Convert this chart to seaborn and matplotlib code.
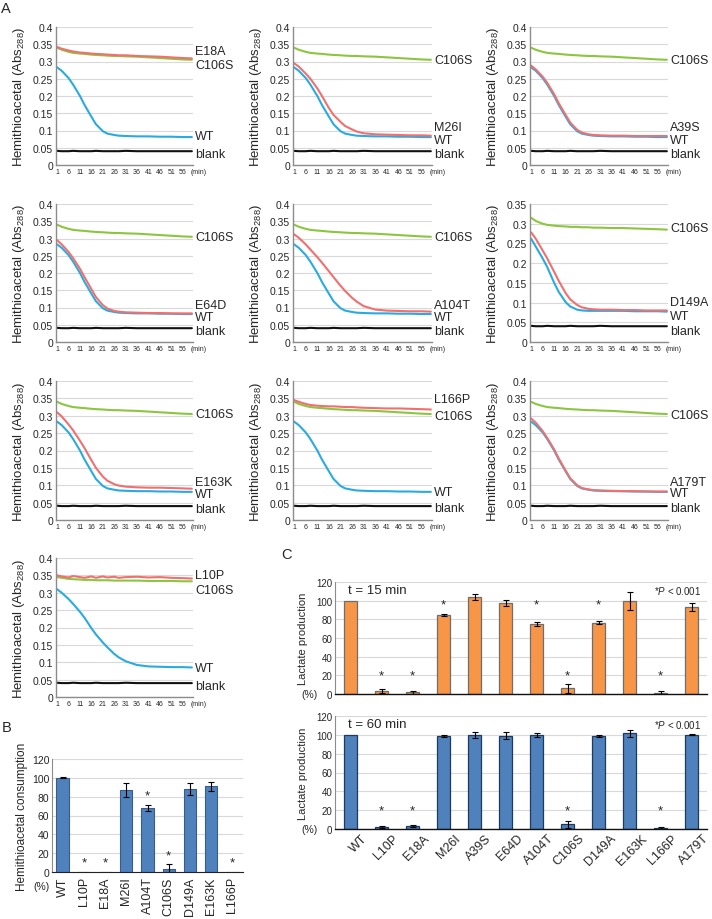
import numpy as np
import pandas as pd
import matplotlib
matplotlib.use("Agg")
import matplotlib.pyplot as plt
import matplotlib.transforms as mtransforms
import seaborn as sns

sns.set_style("white")
plt.rcParams['font.family'] = ['Liberation Sans', 'DejaVu Sans']
plt.rcParams['mathtext.fontset'] = 'custom'
plt.rcParams['mathtext.rm'] = 'Liberation Sans'
plt.rcParams['mathtext.it'] = 'Liberation Sans:italic'
plt.rcParams['mathtext.bf'] = 'Liberation Sans:bold'

# ---------------- data: panel A (time courses, Abs288) ----------------
minutes = [1, 3, 6, 8, 11, 13, 16, 18, 21, 23, 26, 28, 31, 36, 41, 46, 51, 56, 60]
x_tick_minutes = [1, 6, 11, 16, 21, 26, 31, 36, 41, 46, 51, 56]

wt_main = [0.283, 0.273, 0.252, 0.233, 0.200, 0.174, 0.140, 0.118, 0.098, 0.091,
           0.087, 0.085, 0.084, 0.083, 0.083, 0.082, 0.082, 0.081, 0.081]
c106s_main = [0.340, 0.334, 0.328, 0.325, 0.323, 0.322, 0.320, 0.319, 0.318, 0.317,
              0.316, 0.316, 0.315, 0.314, 0.312, 0.310, 0.308, 0.306, 0.305]
blank_main = [0.041, 0.040, 0.040, 0.041, 0.040, 0.040, 0.040, 0.041, 0.040, 0.040,
              0.040, 0.040, 0.041, 0.040, 0.040, 0.040, 0.040, 0.040, 0.040]

wt_d149 = [0.262, 0.242, 0.212, 0.190, 0.150, 0.127, 0.101, 0.090, 0.082, 0.080,
           0.079, 0.079, 0.079, 0.079, 0.079, 0.078, 0.078, 0.078, 0.077]
c106s_d149 = [0.315, 0.307, 0.300, 0.297, 0.295, 0.294, 0.293, 0.292, 0.292, 0.291,
              0.291, 0.290, 0.290, 0.289, 0.289, 0.288, 0.287, 0.286, 0.285]

wt_l10 = [0.310, 0.300, 0.282, 0.268, 0.245, 0.228, 0.198, 0.180, 0.157, 0.143,
          0.124, 0.114, 0.103, 0.092, 0.088, 0.087, 0.086, 0.086, 0.085]
c106s_l10 = [0.345, 0.343, 0.340, 0.339, 0.338, 0.337, 0.337, 0.336, 0.336, 0.336,
             0.335, 0.335, 0.335, 0.335, 0.334, 0.334, 0.334, 0.333, 0.333]

e18a = [0.342, 0.337, 0.332, 0.329, 0.326, 0.325, 0.323, 0.322, 0.321, 0.320,
        0.319, 0.318, 0.318, 0.316, 0.315, 0.314, 0.312, 0.310, 0.309]
m26i = [0.295, 0.285, 0.265, 0.250, 0.222, 0.200, 0.165, 0.145, 0.125, 0.113,
        0.103, 0.097, 0.092, 0.089, 0.088, 0.087, 0.086, 0.086, 0.085]
a39s = [0.288, 0.277, 0.256, 0.238, 0.205, 0.179, 0.145, 0.123, 0.102, 0.094,
        0.089, 0.087, 0.086, 0.085, 0.085, 0.084, 0.084, 0.084, 0.084]
e64d = [0.295, 0.283, 0.261, 0.243, 0.212, 0.188, 0.153, 0.130, 0.107, 0.097,
        0.090, 0.088, 0.086, 0.085, 0.084, 0.084, 0.083, 0.083, 0.083]
a104t = [0.312, 0.302, 0.283, 0.268, 0.246, 0.230, 0.205, 0.188, 0.163, 0.148,
         0.128, 0.117, 0.104, 0.094, 0.091, 0.090, 0.089, 0.089, 0.088]
d149a = [0.278, 0.262, 0.232, 0.212, 0.178, 0.155, 0.124, 0.108, 0.094, 0.088,
         0.084, 0.083, 0.082, 0.082, 0.081, 0.081, 0.080, 0.080, 0.080]
e163k = [0.310, 0.298, 0.275, 0.258, 0.228, 0.207, 0.172, 0.150, 0.125, 0.113,
         0.103, 0.099, 0.096, 0.094, 0.093, 0.093, 0.092, 0.091, 0.090]
l166p = [0.345, 0.340, 0.334, 0.331, 0.329, 0.328, 0.327, 0.327, 0.326, 0.325,
         0.325, 0.324, 0.323, 0.322, 0.321, 0.321, 0.320, 0.319, 0.318]
a179t = [0.292, 0.280, 0.256, 0.236, 0.203, 0.177, 0.142, 0.120, 0.100, 0.092,
         0.088, 0.086, 0.085, 0.084, 0.083, 0.083, 0.082, 0.082, 0.082]
l10p = [0.350, 0.347, 0.344, 0.348, 0.345, 0.343, 0.347, 0.343, 0.347, 0.344,
        0.346, 0.343, 0.345, 0.346, 0.344, 0.345, 0.343, 0.342, 0.341]

# ---------------- data: panel B ----------------
b_categories = ['WT', 'L10P', 'E18A', 'M26I', 'A104T', 'C106S', 'D149A', 'E163K', 'L166P']
b_values = [100, 0, 0, 87, 68, 3, 88, 91, 0]
b_errors = [0.5, 0, 0, 7.5, 3, 5, 6.5, 4.5, 0]
b_signif = [False, True, True, False, True, True, False, False, True]

# ---------------- data: panel C ----------------
c_categories = ['WT', 'L10P', 'E18A', 'M26I', 'A39S', 'E64D', 'A104T', 'C106S',
                'D149A', 'E163K', 'L166P', 'A179T']
c15_values = [100, 3, 2, 85, 104, 97.5, 75, 6, 76.5, 100, 1.5, 93]
c15_errors = [0, 2, 1.5, 1, 3.5, 3.5, 2.5, 5, 2, 9.5, 1.5, 4.5]
c15_signif = [False, True, True, True, False, False, True, True, True, False, True, False]
c60_values = [100, 2.5, 3.5, 99, 100, 99, 100, 5, 98.5, 101.5, 1.5, 100]
c60_errors = [0, 1, 1, 1, 3, 3.5, 2.2, 3.5, 0.8, 3.8, 1, 0.6]
c60_signif = [False, True, True, False, False, False, False, True, False, False, True, False]

# ---------------- layout ----------------
W, H = 712, 920
fig = plt.figure(figsize=(W / 100, H / 100), dpi=100)


def px_axes(x0, y0, x1, y1):
    return fig.add_axes([x0 / W, 1 - y1 / H, (x1 - x0) / W, (y1 - y0) / H])


cols = [(56, 193), (293, 432), (530, 668)]
rows = [(28, 166), (205, 343), (382, 521), (559, 698)]

line_colors = {'WT': '#29abe2', 'C106S': '#8cc63f', 'blank': '#111111', 'mut': '#f07070'}
grid_color = '#d9d9d9'
spine_gray = '#8c8c8c'

controls = {
    'main': (wt_main, c106s_main, blank_main, 0.4),
    'd149': (wt_d149, c106s_d149, blank_main, 0.35),
    'l10': (wt_l10, c106s_l10, blank_main, 0.4),
}

panels = [
    ('E18A', e18a, 'main', 0, 0, {'mut': 0.331, 'C106S': 0.291, 'WT': 0.085, 'blank': 0.032}),
    ('M26I', m26i, 'main', 0, 1, {'mut': 0.111, 'C106S': 0.303, 'WT': 0.073, 'blank': 0.032}),
    ('A39S', a39s, 'main', 0, 2, {'mut': 0.110, 'C106S': 0.303, 'WT': 0.073, 'blank': 0.032}),
    ('E64D', e64d, 'main', 1, 0, {'mut': 0.108, 'C106S': 0.303, 'WT': 0.072, 'blank': 0.032}),
    ('A104T', a104t, 'main', 1, 1, {'mut': 0.108, 'C106S': 0.303, 'WT': 0.072, 'blank': 0.032}),
    ('D149A', d149a, 'd149', 1, 2, {'mut': 0.102, 'C106S': 0.288, 'WT': 0.065, 'blank': 0.027}),
    ('E163K', e163k, 'main', 2, 0, {'mut': 0.110, 'C106S': 0.305, 'WT': 0.075, 'blank': 0.032}),
    ('L166P', l166p, 'main', 2, 1, {'mut': 0.348, 'C106S': 0.300, 'WT': 0.082, 'blank': 0.035}),
    ('A179T', a179t, 'main', 2, 2, {'mut': 0.108, 'C106S': 0.303, 'WT': 0.078, 'blank': 0.034}),
    ('L10P', l10p, 'l10', 3, 0, {'mut': 0.351, 'C106S': 0.307, 'WT': 0.083, 'blank': 0.032}),
]

for name, mut, ctrl, r, c, label_y in panels:
    wt, c106s, blank, ytop = controls[ctrl]
    x0, x1 = cols[c]
    y0, y1 = rows[r]
    ax = px_axes(x0, y0, x1, y1)
    n = len(minutes)
    df = pd.DataFrame({
        'minute': minutes * 4,
        'abs': blank + wt + c106s + mut,
        'series': ['blank'] * n + ['WT'] * n + ['C106S'] * n + [name] * n,
    })
    sns.lineplot(data=df, x='minute', y='abs', hue='series',
                 hue_order=['blank', 'WT', 'C106S', name],
                 palette=[line_colors['blank'], line_colors['WT'], line_colors['C106S'], line_colors['mut']],
                 linewidth=1.5, legend=False, ax=ax)
    ax.set_xlim(0.5, 60.5)
    ax.set_ylim(0, ytop)
    yt = np.round(np.arange(0, ytop + 1e-9, 0.05), 2)
    ax.set_yticks(yt)
    ax.set_yticklabels([f"{v:g}" for v in yt])
    ax.yaxis.grid(True, color=grid_color, lw=0.8)
    ax.set_axisbelow(True)
    for s in ['top', 'right']:
        ax.spines[s].set_visible(False)
    ax.spines['left'].set_color(spine_gray)
    ax.spines['bottom'].set_color(spine_gray)
    ax.spines['left'].set_linewidth(1.0)
    ax.spines['bottom'].set_linewidth(1.0)
    ax.set_xticks(x_tick_minutes)
    ax.set_xticklabels([str(m) for m in x_tick_minutes])
    ax.tick_params(axis='x', labelsize=5, length=0, pad=2.5)
    ax.tick_params(axis='y', labelsize=7.5, length=0, pad=2)
    ax.set_xlabel('')
    ax.set_ylabel('Hemithioacetal (Abs$_{288}$)', fontsize=9.5)
    ax.yaxis.set_label_coords(-29 / (x1 - x0), 0.5)
    tr = mtransforms.offset_copy(ax.transAxes, fig=fig, x=-1.5, y=-2.5, units='points')
    ax.text(1.0, 0.0, '(min)', transform=tr, fontsize=5, ha='left', va='top')
    lab_tr = mtransforms.blended_transform_factory(ax.transAxes, ax.transData)
    for key, txt in [('mut', name), ('C106S', 'C106S'), ('WT', 'WT'), ('blank', 'blank')]:
        ax.text(1.015, label_y[key], txt, transform=lab_tr, fontsize=9, ha='left', va='center')

# ---------------- panel B ----------------
axb = px_axes(52, 760, 243, 873)
sns.barplot(x=b_categories, y=b_values, order=b_categories, color='#4f81bd', saturation=1,
            width=0.58, edgecolor='#385d8a', linewidth=0.8, errorbar=None, ax=axb)
bx = np.arange(len(b_categories))
be = np.array(b_errors)
bv = np.array(b_values)
m = be > 0
axb.errorbar(bx[m], bv[m], yerr=be[m], fmt='none', ecolor='black', elinewidth=0.8,
             capsize=2, capthick=0.8)
for i, sig in enumerate(b_signif):
    if sig:
        axb.text(i, b_values[i] + b_errors[i] + 10, '*', ha='center', va='center', fontsize=9.5)
axb.set_xlim(-0.5, len(b_categories) - 0.5)
axb.set_ylim(0, 120)
axb.set_yticks(range(0, 121, 20))
axb.yaxis.grid(True, color=grid_color, lw=0.8)
axb.set_axisbelow(True)
for s in ['top', 'right']:
    axb.spines[s].set_visible(False)
axb.spines['left'].set_color(spine_gray)
axb.spines['bottom'].set_color('#222222')
axb.tick_params(axis='y', labelsize=7.5, length=0, pad=2)
axb.tick_params(axis='x', labelsize=9, length=0, pad=3, labelrotation=90)
axb.set_ylabel('Hemithioacetal consumption', fontsize=8.5)
axb.yaxis.set_label_coords(-24 / 191, 0.5)
axb.text(-0.01, -0.12, '(%)', transform=axb.transAxes, fontsize=7.5, ha='right', va='center')

# ---------------- panel C ----------------
c_star_low = 20
c_star_high = 96


def c_panel(ax, values, errors, signif, face, edge, title, show_x):
    sns.barplot(x=c_categories, y=values, order=c_categories, color=face, saturation=1,
                width=0.39, edgecolor=edge, linewidth=0.9, errorbar=None, ax=ax)
    xs = np.arange(len(c_categories))
    ev = np.array(errors)
    vv = np.array(values)
    mk = ev > 0
    ax.errorbar(xs[mk], vv[mk], yerr=ev[mk], fmt='none', ecolor='black', elinewidth=0.8,
                capsize=2, capthick=0.8)
    for i, sig in enumerate(signif):
        if sig:
            ystar = c_star_high if values[i] > 50 else c_star_low
            ax.text(i, ystar, '*', ha='center', va='center', fontsize=9.5)
    ax.set_xlim(-0.5, len(c_categories) - 0.5)
    ax.set_ylim(0, 120)
    ax.set_yticks(range(0, 121, 20))
    ax.yaxis.grid(True, color=grid_color, lw=0.8)
    ax.set_axisbelow(True)
    for s in ['top', 'right']:
        ax.spines[s].set_visible(False)
    ax.spines['left'].set_color(spine_gray)
    ax.spines['bottom'].set_color('#111111')
    ax.spines['bottom'].set_linewidth(1.0)
    ax.tick_params(axis='y', labelsize=7, length=0, pad=2)
    if show_x:
        ax.tick_params(axis='x', labelsize=9, length=0, pad=2)
        for lab in ax.get_xticklabels():
            lab.set_rotation(45)
            lab.set_ha('right')
            lab.set_va('top')
            lab.set_rotation_mode('anchor')
            lab.set_transform(lab.get_transform() + mtransforms.ScaledTranslation(8 / 72, 0, fig.dpi_scale_trans))
    else:
        ax.set_xticks([])
    ax.set_ylabel('Lactate production', fontsize=8)
    ax.yaxis.set_label_coords(-27 / 372, 0.5)
    ax.text(-0.048, 0.0, '(%)', transform=ax.transAxes, fontsize=7.5, ha='right', va='center')
    ax.text(0.035, 0.93, title, transform=ax.transAxes, fontsize=9.5, ha='left', va='center')
    ax.text(0.985, 0.93, '*$P$ < 0.001', transform=ax.transAxes, fontsize=7, ha='right', va='center')


axc1 = px_axes(335, 583, 707, 695)
c_panel(axc1, c15_values, c15_errors, c15_signif, '#f79646', '#6e6e6e', 't = 15 min', False)
axc2 = px_axes(335, 717, 707, 830)
c_panel(axc2, c60_values, c60_errors, c60_signif, '#4f81bd', '#1f3b5c', 't = 60 min', True)

# ---------------- panel letters ----------------
fig.text(1 / W, 1 - 2 / H, 'A', fontsize=10.5, ha='left', va='top')
fig.text(2 / W, 1 - 721 / H, 'B', fontsize=10.5, ha='left', va='top')
fig.text(281 / W, 1 - 548 / H, 'C', fontsize=10.5, ha='left', va='top')

fig.savefig('out.png', dpi=100)
